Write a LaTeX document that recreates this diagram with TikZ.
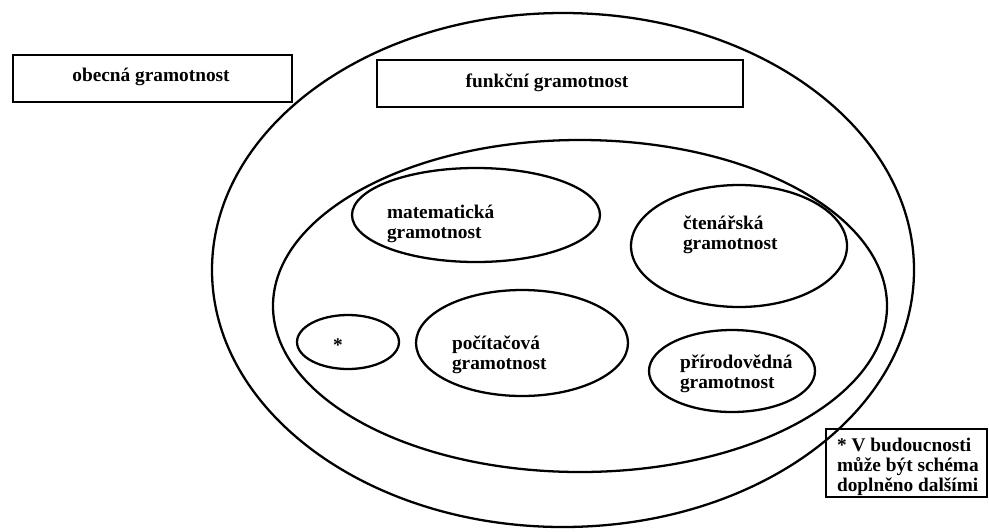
\documentclass[tikz,border=0pt]{standalone}
\usepackage{fontspec}
\setmainfont{Liberation Serif}
\usetikzlibrary{shapes.geometric}
\tikzstyle{base}=[x=0.02cm, y=-0.02cm, inner sep=0pt, outer sep=0pt]
\tikzstyle{oval}=[draw, ellipse, line width=1.3pt, inner sep=0pt]
\tikzstyle{box}=[draw, rectangle, line width=1.6pt, inner sep=0pt]
\tikzstyle{txt}=[font=\fontsize{11}{11.5}\selectfont\bfseries, align=left]

\begin{document}
\begin{tikzpicture}[base]
    \useasboundingbox (0,0) rectangle (989,531);
        \node [oval, minimum width=702*0.02cm, minimum height=514*0.02cm] (obecnaOval) at (563,270) {};
        \node [oval, minimum width=614*0.02cm, minimum height=332*0.02cm] (funkcniOval) at (580,306) {};
        \node [oval, minimum width=248*0.02cm, minimum height=94*0.02cm] (matOval) at (476,215) {};
        \node [oval, minimum width=216*0.02cm, minimum height=122*0.02cm] (ctenOval) at (739,246) {};
        \node [oval, minimum width=102*0.02cm, minimum height=54*0.02cm] (starOval) at (348,342) {};
        \node [oval, minimum width=212*0.02cm, minimum height=106*0.02cm] (pocOval) at (522,343) {};
        \node [oval, minimum width=166*0.02cm, minimum height=82*0.02cm] (prirOval) at (732,371) {};
        \node [box, minimum width=279*0.02cm, minimum height=47*0.02cm] (obecnaBox) at (152.5,78.5) {};
        \node [box, minimum width=366*0.02cm, minimum height=47*0.02cm] (funkcniBox) at (560,83.5) {};
        \node [box, minimum width=161*0.02cm, minimum height=68*0.02cm] (noteBox) at (906.5,463) {};
        \node [txt] (obecna) at (151,76.5) {obecná gramotnost};
        \node [txt] (funkcni) at (547,82.5) {funkční gramotnost};
        \node [txt, anchor=west] (mat) at (387,224) {matematická\\gramotnost};
        \node [txt, anchor=west] (cten) at (683,235) {čtenářská\\gramotnost};
        \node [txt] (star) at (338,345) {*};
        \node [txt, anchor=west] (poc) at (452,355) {počítačová\\gramotnost};
        \node [txt, anchor=west] (prir) at (680,374) {přírodovědná\\gramotnost};
        \node [txt, anchor=west] (note) at (837,467) {* V budoucnosti\\může být schéma\\doplněno dalšími};
    \end{tikzpicture}
\end{document}
